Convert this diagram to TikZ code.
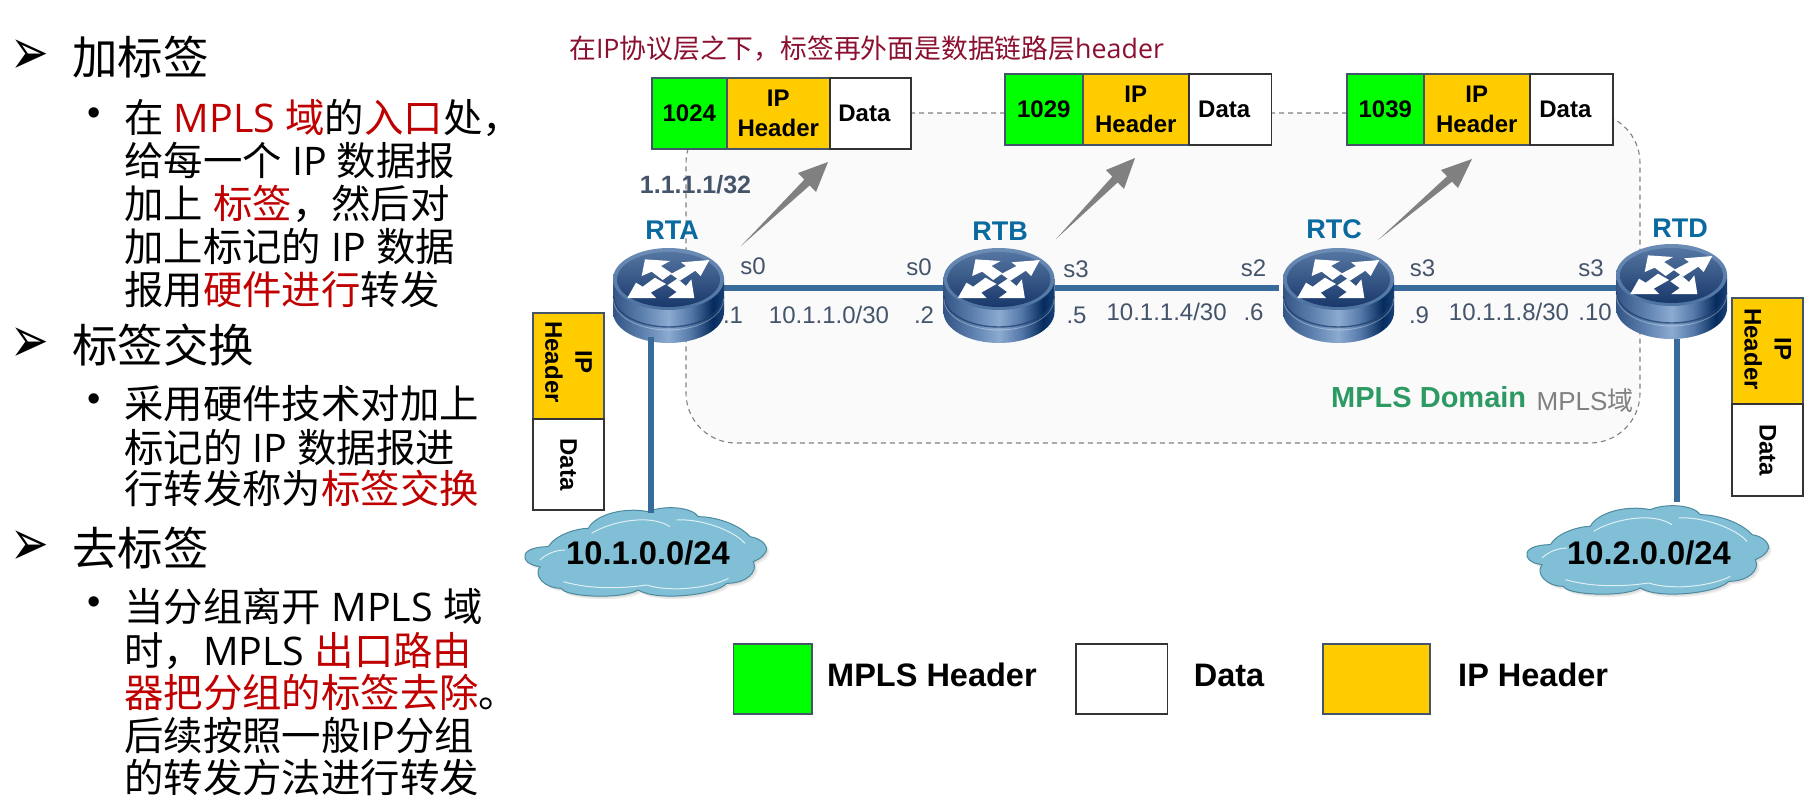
\documentclass[tikz,border=0pt]{standalone}
\usepackage{fontspec}
\setmainfont{Liberation Sans}
\newfontfamily\cjk{Noto Sans CJK SC}
\newfontfamily\latf{Open Sans}
\newfontfamily\dv{DejaVu Sans}
\definecolor{cred}{HTML}{C00000}
\definecolor{capred}{HTML}{8B1030}
\definecolor{linkblue}{HTML}{386A9C}
\definecolor{slate}{HTML}{44546A}
\definecolor{rtname}{HTML}{0A6AA0}
\definecolor{mplsgreen}{HTML}{2E9A63}
\definecolor{pktyellow}{HTML}{FFCC00}
\definecolor{pktgreen}{HTML}{00FF00}
\definecolor{arrgray}{HTML}{808080}
\definecolor{rimtop}{rgb}{.42,.55,.71}
\definecolor{rimbot}{rgb}{.30,.45,.63}
\definecolor{facetop}{rgb}{.33,.46,.63}
\definecolor{facebot}{rgb}{.10,.22,.42}
\definecolor{groove}{rgb}{.12,.25,.43}
\definecolor{cloudedge}{rgb}{.30,.54,.62}
\definecolor{cloudout}{rgb}{.50,.75,.84}
\definecolor{cloudmid}{rgb}{.80,.92,.96}
\pgfdeclarehorizontalshading{rside}{100bp}{
  rgb(0bp)=(0.20,0.33,0.52);
  rgb(25bp)=(0.20,0.33,0.52);
  rgb(38bp)=(0.36,0.50,0.68);
  rgb(50bp)=(0.55,0.67,0.82);
  rgb(60bp)=(0.33,0.47,0.66);
  rgb(70bp)=(0.02,0.17,0.37);
  rgb(78bp)=(0.14,0.30,0.52);
  rgb(100bp)=(0.30,0.47,0.68)}
\newcommand\rd[1]{{\color{cred}#1}}
\newcommand\lt[1]{{\latf #1}}
\newcommand\cloudpath{(15,165) .. controls (20,145) and (60,140) .. (85,140)
  .. controls (105,105) and (170,85) .. (205,85)
  .. controls (225,45) and (310,20) .. (385,35)
  .. controls (430,15) and (515,20) .. (535,50)
  .. controls (590,50) and (660,75) .. (690,110)
  .. controls (725,115) and (750,140) .. (735,160)
  .. controls (725,175) and (710,180) .. (700,185)
  .. controls (715,215) and (680,250) .. (620,250)
  .. controls (590,285) and (410,305) .. (355,270)
  .. controls (300,300) and (130,290) .. (125,265)
  .. controls (70,265) and (40,225) .. (60,200)
  .. controls (25,195) and (10,180) .. (15,165) -- cycle}
\tikzset{
  head/.style={anchor=base west,inner sep=0,font=\cjk\fontsize{45.5}{50}\selectfont},
  body/.style={anchor=base west,inner sep=0,font=\cjk\fontsize{39.4}{43}\selectfont},
  tri/.style={anchor=center,inner sep=0,xscale=1.1,yscale=1.55,transform shape,font=\dv\fontsize{42}{42}\selectfont},
  dot/.style={anchor=center,inner sep=0,font=\fontsize{38}{38}\selectfont},
  domainbox/.style={draw=arrgray,fill=black!2,line width=1.1pt,dash pattern=on 5pt off 4pt,rounded corners=50pt,inner sep=0},
  pktbase/.style={anchor=north west,inner sep=0,align=center,text=black,font=\bfseries\fontsize{24}{30}\selectfont},
  labelcell/.style={pktbase,fill=pktgreen,draw=slate,line width=1.5pt},
  ipcell/.style={pktbase,fill=pktyellow,draw=slate,line width=1.5pt},
  datacell/.style={pktbase,fill=white,draw=black!80,line width=1.8pt},
  rtlabel/.style={inner sep=0,text=rtname,font=\bfseries\fontsize{27}{30}\selectfont},
  ifc/.style={inner sep=0,text=slate,font=\fontsize{24}{28}\selectfont},
  link/.style={draw=linkblue,line width=6pt},
  fwd/.style={fill=arrgray,draw=none},
  legendtext/.style={inner sep=0,anchor=west,text=black,font=\bfseries\fontsize{32.5}{36}\selectfont},
  rtslot/.style={minimum width=111pt,minimum height=110pt,inner sep=0,draw=none},
  pics/netrouter/.style={code={
    \shade[shading=rside] (0,31) -- (0,64)
      .. controls (0,81.1) and (24.85,95) .. (55.5,95)
      .. controls (86.15,95) and (111,81.1) .. (111,64) -- (111,31) -- cycle;
    \draw[groove,line width=1.4pt,opacity=.75] (0.5,48)
      .. controls (0.5,65.1) and (25,79) .. (55.5,79)
      .. controls (86,79) and (110.5,65.1) .. (110.5,48);
    \draw[white,line width=.8pt,opacity=.35] (0.5,51)
      .. controls (0.5,68.1) and (25,82) .. (55.5,82)
      .. controls (86,82) and (110.5,68.1) .. (110.5,51);
    \shade[top color=rimtop,bottom color=rimbot]
      (55.5,31) ellipse [x radius=55.5pt,y radius=31pt];
    \shade[top color=facetop,bottom color=facebot]
      (55.5,31.5) ellipse [x radius=51.5pt,y radius=27.5pt];
    \begin{scope}[shift={(-13,-8)},x=.3333pt,y=-.3333pt]
      \fill[white] (135,58) -- (210,63) -- (183,78) -- (216,100) -- (188,120) -- (155,95) -- (125,108) -- cycle;
      \fill[white] (328,60) -- (302,108) -- (286,92) -- (240,122) -- (212,102) -- (258,78) -- (243,67) -- cycle;
      \fill[white] (82,174) -- (108,128) -- (128,140) -- (165,113) -- (198,132) -- (152,158) -- (168,174) -- cycle;
      \fill[white] (283,174) -- (205,174) -- (230,156) -- (202,136) -- (232,116) -- (258,138) -- (274,118) -- cycle;
    \end{scope}
  }},
  pics/netcloud/.style={code={
    \begin{scope}[x=.3333pt,y=-.3333pt]
      \fill[black,opacity=.07,shift={(9,9)}] \cloudpath;
      \fill[black,opacity=.07,shift={(5,5)}] \cloudpath;
      \shade[top color=cloudout,middle color=cloudmid,bottom color=cloudout] \cloudpath;
      \draw[white,opacity=.75,line width=1pt] (215,100) .. controls (270,65) and (390,40) .. (450,80);
      \draw[white,opacity=.75,line width=1pt] (470,60) .. controls (540,55) and (640,90) .. (675,130);
      \draw[white,opacity=.75,line width=1pt] (60,180) .. controls (80,160) and (110,150) .. (135,150);
      \draw[white,opacity=.75,line width=1pt] (130,245) .. controls (220,270) and (310,265) .. (380,255);
      \draw[white,opacity=.75,line width=1pt] (380,255) .. controls (460,280) and (580,260) .. (625,235);
      \draw[cloudedge,line width=1pt] \cloudpath;
    \end{scope}
  }}
}
\begin{document}
\begin{tikzpicture}[x=1pt,y=-1pt]
\useasboundingbox (0,0) rectangle (1811,804);
% left text
\node[tri] (b1) at (30,57) {➢};
\node[head] (h1) at (72,74) {加标签};
\node[dot] (d1) at (94,117) {•};
\node[body] (l11) at (124,132) {在\lt{ }\rd{\lt{MPLS }域}的\rd{入口}处，};
\node[body] (l12) at (124,175) {给每一个\lt{ IP }数据报};
\node[body] (l13) at (124,218) {加上\lt{ }\rd{标签}，然后对};
\node[body] (l14) at (124,261) {加上标记的\lt{ IP }数据};
\node[body] (l15) at (124,304) {报用\rd{硬件进行}转发};
\node[tri] (b2) at (30,345) {➢};
\node[head] (h2) at (72,362) {标签交换};
\node[dot] (d2) at (94,403) {•};
\node[body] (l21) at (124,418) {采用硬件技术对加上};
\node[body] (l22) at (124,462) {标记的\lt{ IP }数据报进};
\node[body] (l23) at (124,503) {行转发称为\rd{标签交换}};
\node[tri] (b3) at (30,548) {➢};
\node[head] (h3) at (72,565) {去标签};
\node[dot] (d3) at (94,606) {•};
\node[body] (l31) at (124,621) {当分组离开\lt{ MPLS }域};
\node[body] (l32) at (124,665) {时，\lt{MPLS }\rd{出口路由}};
\node[body] (l33) at (124,707) {\rd{器把分组的标签去除}。};
\node[body] (l34) at (124,750) {后续按照一般\lt{IP}分组};
\node[body] (l35) at (124,792) {的转发方法进行转发};
% domain
\node[domainbox,minimum width=954pt,minimum height=330pt] (domain) at (1163,278) {};
% caption
\node[anchor=base west,inner sep=0,text=capred,font=\cjk\fontsize{26.8}{30}\selectfont] (cap) at (569,58) {在\lt{IP}协议层之下，标签再外面是数据链路层\lt{header}};
% packets
\node[labelcell,minimum width=75pt,minimum height=71pt] (p1a) at (651,77) {1024};
\node[ipcell,minimum width=103pt,minimum height=71pt] (p1b) at (726,77) {IP\\Header};
\node[datacell,minimum width=81pt,minimum height=71pt] (p1c) at (829,77) {\hspace*{-12pt}Data};
\node[labelcell,minimum width=78pt,minimum height=71pt] (p2a) at (1004,73) {1029};
\node[ipcell,minimum width=106pt,minimum height=71pt] (p2b) at (1082,73) {IP\\Header};
\node[datacell,minimum width=82.6pt,minimum height=71pt] (p2c) at (1188,73) {\hspace*{-12pt}Data};
\node[labelcell,minimum width=77pt,minimum height=71pt] (p3a) at (1346,73) {1039};
\node[ipcell,minimum width=106pt,minimum height=71pt] (p3b) at (1423,73) {IP\\Header};
\node[datacell,minimum width=83pt,minimum height=71pt] (p3c) at (1529,73) {\hspace*{-12pt}Data};
% side packets
\node[ipcell,anchor=center,rotate=-90,minimum width=106pt,minimum height=71pt] (s1a) at (568.5,366) {\hspace*{-8pt}IP\\\hspace*{-8pt}Header};
\node[datacell,anchor=center,rotate=-90,minimum width=91pt,minimum height=71pt] (s1b) at (568.5,464.5) {Data};
\node[ipcell,anchor=center,rotate=-90,minimum width=106pt,minimum height=71pt] (s2a) at (1767.7,351) {\hspace*{-4pt}IP\\\hspace*{-4pt}Header};
\node[datacell,anchor=center,rotate=-90,minimum width=92pt,minimum height=71pt] (s2b) at (1767.7,450) {Data};
% router slots
\node[rtslot] (rta) at (668.5,288) {};
\node[rtslot] (rtb) at (999,288) {};
\node[rtslot] (rtc) at (1338.5,288) {};
\node[rtslot] (rtd) at (1671.5,288) {};
\coordinate (rtc-w) at (1279,288);
\draw[link] (rta.east) -- (rtb.west);
\draw[link] (rtb.east) -- (rtc-w);
\draw[link] (rtc.east) -- (rtd.west);
\pic at (613,248) {netrouter};
\pic at (943.5,248) {netrouter};
\pic at (1283,248) {netrouter};
\pic at (1616,244) {netrouter};
% clouds
\pic at (520,500) {netcloud};
\pic at (1522,498) {netcloud};
\node[inner sep=0,text=black,font=\bfseries\fontsize{32.7}{36}\selectfont] (net1) at (648,553) {10.1.0.0/24};
\node[inner sep=0,text=black,font=\bfseries\fontsize{32.7}{36}\selectfont] (net2) at (1649,553) {10.2.0.0/24};
\coordinate (rta-d) at (651,337);
\coordinate (net1-u) at (651,513);
\coordinate (rtd-d) at (1677,339);
\coordinate (net2-u) at (1677,502);
\draw[link] (rta-d) -- (net1-u);
\draw[link] (rtd-d) -- (net2-u);
% forwarding arrows
\coordinate (a1t) at (741,246); \coordinate (a1h) at (828,162);
\coordinate (a2t) at (1056,239); \coordinate (a2h) at (1135,158);
\coordinate (a3t) at (1378,240); \coordinate (a3h) at (1472,159);
\fill[fwd] (a1t) -- (804.3,179.6) -- (798,173) -- (a1h) -- (816,192) -- (809.7,185.4) -- cycle;
\fill[fwd] (a2t) -- (1112.3,176.6) -- (1106,170) -- (a2h) -- (1124,189) -- (1117.7,182.4) -- cycle;
\fill[fwd] (a3t) -- (1447,176.3) -- (1441,170) -- (a3h) -- (1458,188) -- (1452,181.7) -- cycle;
% router names
\node[rtlabel] (nrta) at (672,230) {RTA};
\node[rtlabel] (nrtb) at (1000,231) {RTB};
\node[rtlabel] (nrtc) at (1334,229) {RTC};
\node[rtlabel] (nrtd) at (1680,228) {RTD};
\node[inner sep=0,text=slate,font=\bfseries\fontsize{25}{28}\selectfont] (lo) at (695.5,185) {1.1.1.1/32};
% interface labels
\node[ifc] (i1) at (753,266) {s0};
\node[ifc] (i2) at (919,267) {s0};
\node[ifc] (i3) at (733,315) {.1};
\node[ifc] (i4) at (829,315) {10.1.1.0/30};
\node[ifc] (i5) at (924,315) {.2};
\node[ifc] (i6) at (1076,269) {s3};
\node[ifc] (i7) at (1253.5,268) {s2};
\node[ifc] (i8) at (1076.5,315) {.5};
\node[ifc] (i9) at (1166.6,312) {10.1.1.4/30};
\node[ifc] (i10) at (1253.5,312) {.6};
\node[ifc] (i11) at (1422.6,268) {s3};
\node[ifc] (i12) at (1591,268) {s3};
\node[ifc] (i13) at (1419,315) {.9};
\node[ifc] (i14) at (1509,312) {10.1.1.8/30};
\node[ifc] (i15) at (1595,312) {.10};
% domain labels
\node[inner sep=0,anchor=west,text=mplsgreen,font=\bfseries\fontsize{29}{32}\selectfont] (dm1) at (1331,397) {MPLS Domain};
\node[inner sep=0,anchor=west,text=arrgray,font=\fontsize{26}{30}\selectfont] (dm2) at (1536.5,401) {MPLS{\cjk 域}};
% legend
\node[labelcell,minimum width=78.5pt,minimum height=70pt] (k1) at (732.5,643) {};
\node[datacell,minimum width=91.6pt,minimum height=70pt] (k2) at (1075,643) {};
\node[ipcell,minimum width=107pt,minimum height=70pt] (k3) at (1322,643) {};
\node[legendtext] (t1) at (827,675) {MPLS Header};
\node[legendtext] (t2) at (1193.6,675) {Data};
\node[legendtext] (t3) at (1458,675) {IP Header};
\end{tikzpicture}
\end{document}
